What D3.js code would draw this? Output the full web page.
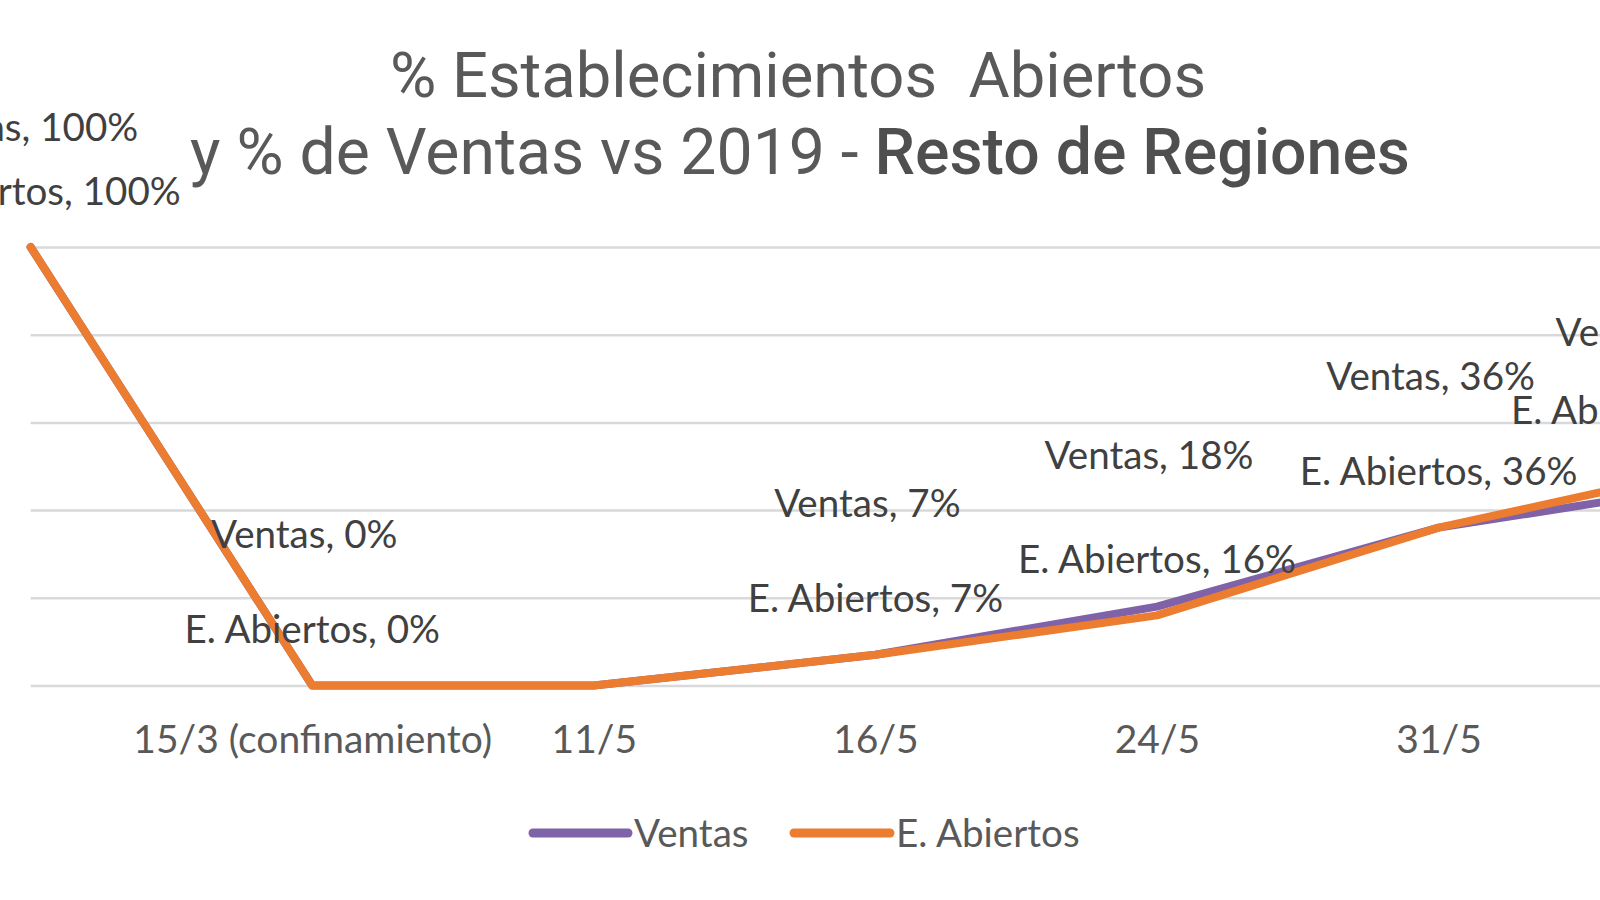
<!DOCTYPE html>
<html>
<head>
<meta charset="utf-8">
<script src="https://cdn.jsdelivr.net/npm/d3@7/dist/d3.min.js"></script>
<style>
  html, body { margin: 0; padding: 0; background: #fff; overflow: hidden; }
  svg { display: block; }
</style>
</head>
<body>
<svg id="chart" width="1600" height="900"></svg>
<script>
// ---- data ----
const categories = ["", "15/3 (confinamiento)", "11/5", "16/5", "24/5", "31/5", ""];
const ventas = [100, 0, 0, 7, 18, 36, 46];
const abiertos = [100, 0, 0, 7, 16, 36, 50];
const showLabel = [true, true, false, true, true, true, true];
const seriesNames = ["Ventas", "E. Abiertos"];
const yTicks = [0, 20, 40, 60, 80, 100];
const titleLine1 = "% Establecimientos  Abiertos";
const titleLine2a = "y % de Ventas vs 2019 - ";
const titleLine2b = "Resto de Regiones";

// ---- styling ----
const colors = { "Ventas": "#7f62a8", "E. Abiertos": "#ec7c30" };
const labelFont = "Lato, 'Open Sans', sans-serif";
const titleFont = "Roboto, 'Open Sans', sans-serif";
const labelSize = 38.6;

const svg = d3.select("#chart");

const x = d3.scalePoint()
  .domain(d3.range(categories.length))
  .range([30.6, 30.6 + 281.6 * (categories.length - 1)]);
const y = d3.scaleLinear().domain([0, 100]).range([685.5, 247]);

// gridlines
const grid = d3.axisLeft(y).tickValues(yTicks).tickSize(-1800).tickFormat("");
svg.append("g")
  .attr("transform", "translate(30.6,0)")
  .call(grid)
  .call(g => g.select(".domain").remove())
  .call(g => g.selectAll(".tick line").attr("stroke", "#d9d9d9").attr("stroke-width", 2.5));

// category axis labels
const xAxis = d3.axisBottom(x).tickSize(0).tickFormat(i => categories[i]);
svg.append("g")
  .attr("transform", "translate(0,739)")
  .call(xAxis)
  .call(g => g.select(".domain").remove())
  .call(g => g.selectAll("text")
    .attr("y", 0).attr("dy", "0.35em")
    .attr("font-family", labelFont)
    .attr("font-size", 39)
    .attr("fill", "#595959"));

// lines
const line = d3.line().x((d, i) => x(i)).y(d => y(d)).curve(d3.curveLinear);
const data = [ventas, abiertos];
data.forEach((vals, si) => {
  svg.append("path")
    .datum(vals)
    .attr("d", line)
    .attr("fill", "none")
    .attr("stroke", colors[seriesNames[si]])
    .attr("stroke-width", 8)
    .attr("stroke-linejoin", "round")
    .attr("stroke-linecap", "round");
});

// data labels
const labelCfg = [
  { dy: -151, dx: -8, minY: 127, maxX: 1660 },
  { dy: -56, dx: 0, minY: 0, maxX: 1650 }
];
data.forEach((vals, si) => {
  const cfg = labelCfg[si];
  const name = seriesNames[si];
  svg.append("g").selectAll("text")
    .data(vals.map((v, i) => ({ v, i })).filter(d => showLabel[d.i]))
    .join("text")
    .attr("x", d => Math.min(x(d.i) + cfg.dx, cfg.maxX))
    .attr("y", d => Math.max(y(d.v) + cfg.dy, cfg.minY))
    .attr("dy", "0.35em")
    .attr("text-anchor", "middle")
    .attr("font-family", labelFont)
    .attr("font-size", labelSize)
    .attr("fill", "#404040")
    .text(d => `${name}, ${d.v}%`);
});

// title
svg.append("text")
  .attr("x", 798).attr("y", 97)
  .attr("text-anchor", "middle")
  .attr("font-family", titleFont)
  .attr("font-size", 63.3)
  .attr("fill", "#595959")
  .style("white-space", "pre")
  .text(titleLine1);
const t2 = svg.append("text")
  .attr("x", 800).attr("y", 174)
  .attr("text-anchor", "middle")
  .attr("font-family", titleFont)
  .attr("font-size", 64.3)
  .attr("fill", "#595959");
t2.append("tspan").style("white-space", "pre").text(titleLine2a);
t2.append("tspan").attr("font-weight", 500).attr("fill", "#4f4f4f").text(titleLine2b);

// legend
const legendItems = [
  { name: "Ventas", x1: 533, x2: 628, tx: 634 },
  { name: "E. Abiertos", x1: 794, x2: 890, tx: 896 }
];
const lg = svg.append("g");
legendItems.forEach(it => {
  lg.append("line")
    .attr("x1", it.x1).attr("x2", it.x2)
    .attr("y1", 833).attr("y2", 833)
    .attr("stroke", colors[it.name])
    .attr("stroke-width", 9)
    .attr("stroke-linecap", "round");
  lg.append("text")
    .attr("x", it.tx).attr("y", 833).attr("dy", "0.35em")
    .attr("font-family", labelFont)
    .attr("font-size", labelSize)
    .attr("fill", "#595959")
    .text(it.name);
});
</script>
</body>
</html>
